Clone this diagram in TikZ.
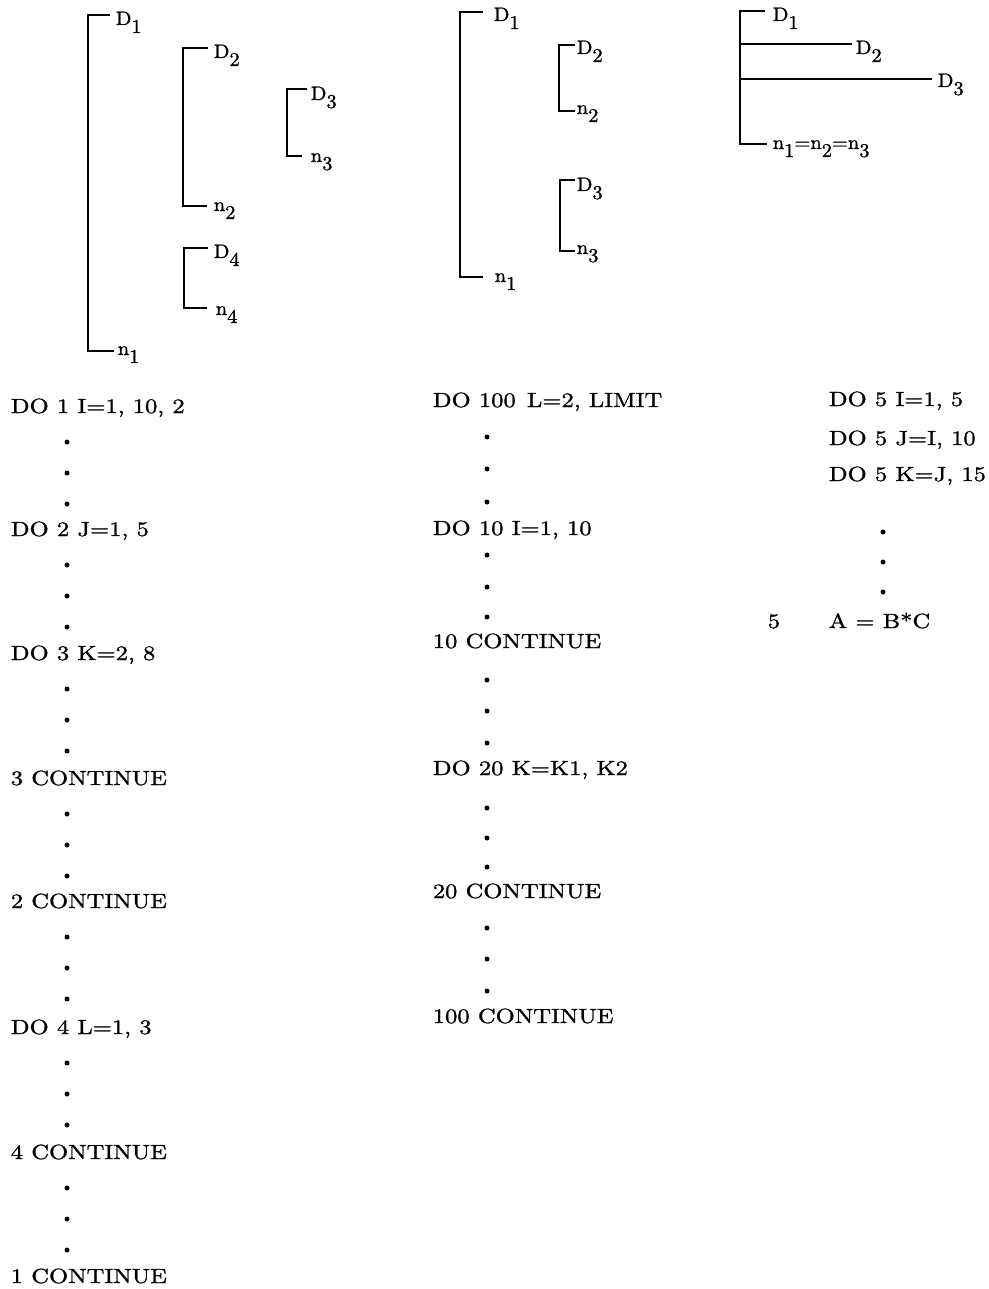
\documentclass[tikz,border=0pt]{standalone}
\usepackage{fontspec}
\setmainfont{lmroman10-regular.otf}[FakeStretch=1.2, FakeBold=1.2]
\newfontfamily\tagfamily{lmroman10-regular.otf}[FakeStretch=1.05, FakeBold=1.2]
\newcommand\codesize{\fontsize{20.5}{24}\selectfont}
\newcommand\tagsize{\fontsize{19.5}{22}\selectfont}
\newcommand\idx[2]{#1\raisebox{-8pt}{#2}}

\begin{document}
\begin{tikzpicture}[x=1pt, y=-1pt, line width=1.6pt,
		code/.style={anchor=base west, inner sep=0pt, font=\codesize},
		tag/.style={anchor=base west, inner sep=0pt, font=\tagfamily\tagsize},
		bar/.style={line cap=butt, line join=miter}]
	\useasboundingbox (0,0) rectangle (988,1289);

	% nest one
	\node[tag] (ad1) at (115,25) {\idx{D}{1}};
	\node[tag] (an1) at (117,355) {\idx{n}{1}};
	\node[tag] (ad2) at (213,58) {\idx{D}{2}};
	\node[tag] (an2) at (213,211) {\idx{n}{2}};
	\node[tag] (ad3) at (310,100) {\idx{D}{3}};
	\node[tag] (an3) at (310,162) {\idx{n}{3}};
	\node[tag] (ad4) at (213,258) {\idx{D}{4}};
	\node[tag] (an4) at (215,315) {\idx{n}{4}};
	\draw[bar] ([xshift=-5pt,yshift=10pt]ad1.base west) -- ++(-22,0) |- ([xshift=-3pt,yshift=4pt]an1.base west);
	\draw[bar] ([xshift=-5pt,yshift=10pt]ad2.base west) -- ++(-25,0) |- ([xshift=-6pt,yshift=5pt]an2.base west);
	\draw[bar] ([xshift=-3pt,yshift=11pt]ad3.base west) -- ++(-20,0) |- ([xshift=-8pt,yshift=6pt]an3.base west);
	\draw[bar] ([xshift=-5pt,yshift=10pt]ad4.base west) -- ++(-24,0) |- ([xshift=-8pt,yshift=7pt]an4.base west);

	% nest two
	\node[tag] (bd1) at (493,21) {\idx{D}{1}};
	\node[tag] (bn1) at (494,282) {\idx{n}{1}};
	\node[tag] (bd2) at (576,54) {\idx{D}{2}};
	\node[tag] (bn2) at (576,114) {\idx{n}{2}};
	\node[tag] (bd3) at (576,191) {\idx{D}{3}};
	\node[tag] (bn3) at (576,254) {\idx{n}{3}};
	\draw[bar] ([xshift=-10pt,yshift=9pt]bd1.base west) -- ++(-23,0) |- ([xshift=-11pt,yshift=5pt]bn1.base west);
	\draw[bar] ([xshift=-1pt,yshift=9pt]bd2.base west) -- ++(-16,0) |- ([xshift=-1pt,yshift=3pt]bn2.base west);
	\draw[bar] ([xshift=-1pt,yshift=11pt]bd3.base west) -- ++(-15,0) |- ([xshift=-1pt,yshift=3pt]bn3.base west);

	% nest three, one end
	\node[tag] (cd1) at (772,21) {\idx{D}{1}};
	\node[tag] (cd2) at (855,54) {\idx{D}{2}};
	\node[tag] (cd3) at (937,87) {\idx{D}{3}};
	\node[tag] (cn) at (772,149) {\idx{n}{1}=\idx{n}{2}=\idx{n}{3}};
	\draw[bar] ([xshift=-7pt,yshift=10pt]cd1.base west) -- ++(-25,0) |- ([xshift=-5pt,yshift=5pt]cn.base west);
	\draw[bar] ([xshift=-3pt,yshift=10pt]cd2.base west) -- ++(-112,0);
	\draw[bar] ([xshift=-5pt,yshift=8pt]cd3.base west) -- ++(-192,0);

	% code, left
	\node[code] (l1) at (10,413) {DO 1 I=1, 10, 2};
	\node[code] (l2) at (10,536) {DO 2 J=1, 5};
	\node[code] (l3) at (10,660) {DO 3 K=2, 8};
	\node[code] (l4) at (10,785) {3 CONTINUE};
	\node[code] (l5) at (10,908) {2 CONTINUE};
	\node[code] (l6) at (10,1034) {DO 4 L=1, 3};
	\node[code] (l7) at (10,1159) {4 CONTINUE};
	\node[code] (l8) at (10,1283) {1 CONTINUE};
	\foreach \y in {413,536,660,785,908,1034,1159}
		\foreach \d in {29,60,91}
			\fill (67,\y+\d) circle (2.5);

	% code, middle
	\node[code] (m1) at (432,407) {DO 100\hspace{3pt} L=2, LIMIT};
	\node[code] (m2) at (432,535) {DO 10 I=1, 10};
	\node[code] (m3) at (432,648) {10 CONTINUE};
	\node[code] (m4) at (432,775) {DO 20 K=K1, K2};
	\node[code] (m5) at (432,898) {20 CONTINUE};
	\node[code] (m6) at (432,1023) {100 CONTINUE};
	\foreach \y in {437,469,502,555,587,617,680,711,743,808,838,867,928,959,991}
		\fill (487,\y) circle (2.5);

	% code, right
	\node[code] (r1) at (828,406) {DO 5 I=1, 5};
	\node[code] (r2) at (828,445) {DO 5 J=I, 10};
	\node[code] (r3) at (828,481) {DO 5 K=J, 15};
	\node[code] (r4) at (767,628) {5};
	\node[code] (r5) at (828,628) {A = B*C};
	\foreach \y in {532,562,592}
		\fill (883,\y) circle (2.5);
\end{tikzpicture}
\end{document}
